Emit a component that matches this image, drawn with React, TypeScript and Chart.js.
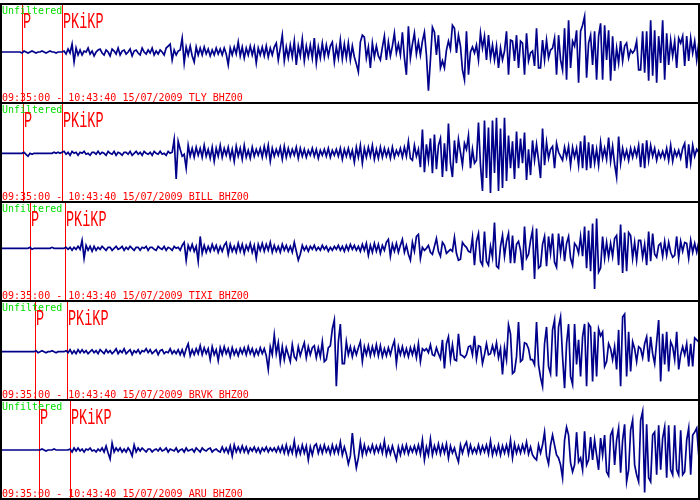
import React, { useEffect, useRef } from "react";
import { Chart, registerables } from "chart.js";

Chart.register(...registerables);

// ---- data ----
const START_TIME = "09:35:00";
const END_TIME = "10:43:40";
const DATE = "15/07/2009";
const CHANNEL = "BHZ00";
const FILTER_LABEL = "Unfiltered";
const DURATION_SEC = 4120; // 09:35:00 -> 10:43:40
const SAMPLE_SEC = 11.8;
const STATIONS = ["TLY", "BILL", "TIXI", "BRVK", "ARU"];
const P_SEC = [130, 136, 177, 207, 230];
const PKIKP_SEC = [366, 366, 384, 396, 413];
const BASE_SHIFT = [-1.5, 0.8, -3.2, 1.2, 0.5];

const TLY = [
  0,0,0,0,0,0,0,0,0,0,
  0,-1,1,0,-1,0,1,0,-1,0,
  0,1,0,-1,0,1,0,0,-1,0,
  0,0,1,-2,3,-1,8,-10,4,-3,
  2,-3,1,0,4,-2,1,-4,0,2,
  3,-1,-3,2,0,-4,3,1,-2,4,
  -3,1,2,-2,0,3,-4,1,2,-1,
  -3,4,0,-2,2,-1,4,-3,1,-2,
  2,0,-3,4,6,8,-8,2,-3,1,
  2,14,-11,5,-3,6,-4,-10,5,-3,
  4,-3,5,-2,3,-4,2,-3,4,-2,
  3,-3,4,-2,-13,4,-3,5,-2,10,
  -4,5,-6,4,-3,6,-3,5,-11,4,
  -3,5,-4,6,-5,4,-3,5,9,-8,
  4,17,-9,5,-6,7,-5,11,-13,6,
  -4,13,-9,6,-5,7,-6,14,-11,5,
  -6,9,-5,7,-4,6,10,-10,5,-6,
  12,-7,8,-6,9,-8,6,-5,-12,-20,
  10,17,15,-6,5,-16,9,-5,6,-4,
  -8,5,16,-8,10,-4,6,19,-1,8,
  -3,20,-6,-23,26,-6,8,19,-2,10,
  -3,11,20,-3,-39,-8,25,20,-3,17,
  -16,-9,-16,2,11,3,27,24,-1,17,
  6,-18,-28,21,-23,0,5,-1,7,-8,
  19,4,16,-8,17,-6,7,-8,6,-16,
  4,-8,1,21,-23,12,11,-9,17,-16,
  11,9,-23,19,-9,-1,1,-14,24,-16,
  -16,12,-8,12,-6,2,4,14,-23,17,
  -8,-18,24,-28,32,-16,11,6,22,-31,
  21,27,36,-26,9,17,-13,21,-28,16,
  29,-28,27,-8,22,-29,16,-19,4,-11,
  11,-9,6,9,-6,2,-1,2,11,-18,
  -18,21,-21,21,-29,32,-24,22,-31,16,
  -11,32,-28,19,-13,12,-4,11,-16,14,
  9,16,-14,16,-9,14,-1,11,-8,9,
];

const BILL = [
  0,0,0,0,0,0,0,0,0,0,
  0,0,1,-1,-3,0,-1,0,0,0,
  0,0,0,0,0,0,0,1,0,1,
  0,1,2,-1,1,-2,2,0,1,-2,
  1,0,2,-1,0,-2,1,1,-1,2,
  -1,1,0,-2,2,0,-1,2,-2,1,
  0,-2,1,1,-1,2,-2,0,2,-1,
  1,-2,2,0,-1,1,-2,2,0,-1,
  2,-1,0,-2,2,0,1,14,-26,12,
  4,-3,-1,-15,8,-3,5,-4,6,-2,
  5,-4,8,-3,4,-5,6,-8,5,-3,
  8,-4,5,-2,6,-5,4,-8,7,-3,
  5,-6,8,-4,3,-5,6,-3,4,-2,
  5,-4,7,-3,8,-8,5,-3,4,-2,
  6,-6,7,-4,5,-3,4,-2,6,-5,
  5,-3,4,-4,3,-2,5,-3,4,-5,
  3,-2,4,-3,5,-4,3,-2,4,-3,
  5,-6,4,-3,5,-4,3,-9,6,-4,
  8,-10,5,-4,6,-3,8,-6,4,-5,
  6,-4,5,-3,4,-5,6,-4,3,-2,
  5,-4,6,-3,12,-5,-7,8,-3,4,
  -14,24,-19,9,-7,15,-20,19,-16,8,
  15,-24,10,-18,30,-10,-24,13,-10,14,
  1,-12,10,4,18,-15,4,-10,-7,31,
  -12,-38,33,-25,26,-40,33,-20,36,-38,
  25,-35,36,-28,18,-15,12,-26,22,-15,
  15,-10,21,-27,4,-22,13,-7,9,-7,
  -25,25,-12,11,-5,4,7,-15,10,1,
  -3,-7,6,-4,7,-12,6,-4,5,-12,
  12,-15,18,-17,11,-15,9,-10,4,-12,
  11,-5,5,-6,16,-8,7,-11,-24,17,
  -10,5,-5,3,-7,5,-4,5,-3,8,
  -14,10,-15,13,-7,8,-3,5,-7,2,
  -4,2,-5,5,-7,8,-8,3,-3,3,
  -5,5,10,-15,9,-10,8,-3,4,1,
];

const TIXI = [
  0,0,0,0,0,0,0,0,0,0,
  0,0,0,0,0,1,-1,0,0,0,
  0,0,0,0,0,0,1,0,0,0,
  0,0,0,1,-1,1,-2,1,-1,2,
  -1,8,-10,3,-2,2,-3,2,-2,1,
  -1,2,0,-2,1,1,-2,0,2,-1,
  0,2,-2,1,-1,2,0,-2,1,1,
  -2,1,0,2,-2,1,1,-1,-2,2,
  0,-1,2,-2,1,0,-2,2,0,1,
  -2,3,6,-12,3,-2,4,-3,2,-13,
  12,-5,3,-4,2,-3,4,-2,3,-4,
  2,-3,3,6,-6,4,-3,2,-4,5,
  -3,4,-5,3,-2,5,-4,3,-10,4,
  -2,5,-3,4,-2,6,-4,3,-3,2,
  -4,4,-2,3,-3,2,-4,6,-3,-12,
  -6,3,-2,2,-3,2,-1,3,-2,1,
  -2,3,-1,2,-3,1,-2,2,-1,3,
  -2,2,-3,3,-2,4,-1,3,-2,2,
  -3,4,-2,5,-7,3,-4,5,-3,4,
  -5,3,-2,6,9,-8,4,-3,5,-4,
  3,9,-4,3,-6,-12,6,-3,12,14,
  -10,1,-2,0,3,-4,-6,2,10,-3,
  -8,6,3,-5,-3,-1,-3,11,-5,-12,
  -11,6,3,1,-3,-4,11,-17,7,15,
  -13,-17,17,-13,-17,2,-9,26,-18,-20,
  2,13,-8,7,15,-15,13,-15,4,7,
  -2,-22,22,-10,-6,8,18,-31,20,-20,
  -18,4,12,-18,12,-5,15,-14,-19,15,
  -5,12,-13,5,12,-10,-17,5,2,-5,
  12,-8,22,-20,18,-23,25,-41,30,-24,
  -20,12,-10,6,-9,5,-8,10,13,-17,
  24,-25,16,-23,16,13,-10,6,-12,8,
  8,-9,4,-17,17,-13,15,-6,-9,3,
  5,-8,7,-7,6,-4,-9,-7,12,-10,
  7,-3,6,5,-10,8,-4,5,-4,6,
];

const BRVK = [
  0,0,0,0,0,0,0,0,0,0,
  0,0,0,0,0,0,0,0,1,-1,
  0,1,0,-1,0,0,1,0,-1,0,
  0,0,0,1,-1,2,-2,1,-2,2,
  -1,2,-1,1,-2,0,2,-1,1,-2,
  2,0,-2,2,-1,1,-2,0,3,-2,
  1,-1,3,-2,0,2,-3,1,-1,2,
  -2,1,0,3,-1,2,-2,0,2,-3,
  1,2,-2,0,-1,3,-2,1,-2,2,
  -3,2,-4,3,8,-4,2,-3,3,-2,
  6,-3,4,-2,3,-8,5,-3,2,-9,
  4,-3,5,-2,3,-5,4,-3,2,-4,
  3,-2,4,-3,5,-2,3,-4,2,-3,
  4,-2,3,-4,-18,5,-3,17,-2,9,
  -10,5,-8,4,-3,-10,7,-5,-8,5,
  -4,3,9,-6,5,-3,4,6,-6,4,
  -5,10,-10,-8,4,6,23,32,-35,10,
  28,-12,-12,10,-3,5,-5,4,-3,4,
  10,-10,5,-3,6,-4,5,-3,7,-4,
  6,-5,3,-4,4,-3,5,11,-12,5,
  -3,5,-4,3,-5,4,-3,5,-6,8,
  -10,3,1,3,-1,7,-3,-4,4,-2,
  -7,12,-17,8,15,-8,7,-8,-9,18,
  -3,-4,-6,-3,5,6,-3,16,-7,6,
  5,-12,-3,8,-3,-2,6,-2,9,-6,
  3,-23,4,-8,27,18,-22,-20,-5,30,
  -10,-8,9,8,3,-8,-8,-13,30,-13,
  -26,-35,8,25,-15,-22,22,32,-25,25,
  35,-5,-37,8,28,-25,-33,28,-13,12,
  -25,15,28,-35,28,25,-30,20,-25,23,
  16,20,-15,-10,8,3,-8,5,-18,22,
  -35,35,38,-25,20,-20,10,3,-10,5,
  3,-6,8,15,-10,15,-2,-12,10,32,
  -30,18,-13,20,-20,10,5,-8,20,-18,
  -3,5,-3,8,-15,8,-15,14,12,10,
];

const ARU = [
  0,0,0,0,0,0,0,0,0,0,
  0,0,0,0,0,0,0,0,0,0,
  0,1,0,-1,0,0,0,1,0,0,
  0,0,0,0,0,1,-2,2,-1,2,
  -1,1,-2,1,0,2,-1,0,-2,1,
  -1,2,-2,4,-3,-9,7,-2,2,-1,
  2,-2,1,-2,2,-1,-6,5,-2,2,
  -1,2,0,-2,1,1,-2,0,1,-1,
  2,-1,0,2,-2,1,0,-1,2,-2,
  0,1,-2,2,-1,0,1,-2,2,0,
  -2,2,0,-1,1,2,-2,0,1,-1,
  -2,3,-2,2,-3,4,-6,5,-2,3,
  -2,4,-2,3,-3,2,-1,3,-2,2,
  -3,2,-1,3,-2,2,-1,2,-2,3,
  -2,4,-3,5,-4,3,-3,9,-5,3,
  -4,5,-3,4,-10,3,-5,4,6,-3,
  4,-3,5,-2,3,-4,5,-3,4,-3,
  8,-5,3,-4,-14,-6,17,-4,-18,-8,
  8,-5,5,-4,3,-2,5,-3,4,-2,
  5,-3,9,-5,3,-4,4,-3,-10,3,
  -5,4,-3,5,-4,3,-2,4,-3,5,
  -4,10,-10,3,-5,11,-5,4,-3,6,
  -4,5,-3,6,-8,4,-3,2,-6,-12,
  5,-3,4,8,-4,5,-3,2,-3,5,
  -3,4,-2,5,-4,9,-5,3,-4,5,
  -5,4,-3,5,-4,10,-8,6,-3,4,
  -3,5,-2,8,-4,3,-5,-8,-10,5,
  -3,5,18,-6,-14,5,15,5,-5,-8,
  -15,-28,10,23,15,-13,-22,-15,18,-12,
  -8,-20,19,-15,-10,13,-10,10,-5,-20,
  12,-5,15,-22,-26,15,20,-15,10,22,
  -23,10,26,-32,-20,20,30,-15,-25,-32,
  30,39,-43,26,-28,-32,15,18,-25,25,
  -20,12,23,-28,25,-20,-25,25,-20,-25,
  20,-25,-22,10,22,-25,15,18,22,-5,
];

const TRACES = [TLY, BILL, TIXI, BRVK, ARU];

// ---- styles ----
const NAVY = "#00008b";
const RED = "#ff0000";
const GREEN = "#00dd00";
const W = 700;
const H = 500;
const PANEL_STEP = 99;
const FIRST_BORDER = 3;
const CANVAS_H = 97;
const CANVAS_W = 699;

const seisPlugin = {
  id: "seis",
  beforeDatasetsDraw(chart: any, _args: any, opts: any) {
    const ctx = chart.ctx as CanvasRenderingContext2D;
    const xs = chart.scales.x;
    const h = chart.height;
    ctx.save();
    ctx.strokeStyle = RED;
    ctx.lineWidth = 1;
    [opts.p, opts.pkikp].forEach((t: number) => {
      const px = Math.round(xs.getPixelForValue(t)) + 0.5;
      ctx.beginPath();
      ctx.moveTo(px, 0);
      ctx.lineTo(px, h);
      ctx.stroke();
    });
    ctx.textAlign = "left";
    ctx.textBaseline = "alphabetic";
    ctx.font = "10px 'DejaVu Sans Mono'";
    ctx.fillStyle = GREEN;
    ctx.fillText(FILTER_LABEL, 2, 9);
    ctx.fillStyle = RED;
    ctx.fillText(opts.footer, 2, 96);
    ctx.font = "13.5px 'Liberation Mono'";
    const labels: [number, string][] = [
      [opts.p, "P"],
      [opts.pkikp, "PKiKP"],
    ];
    labels.forEach(([t, s]) => {
      const px = Math.round(xs.getPixelForValue(t));
      ctx.save();
      ctx.translate(px + 1, 23);
      ctx.scale(1, 1.6);
      ctx.fillText(s, 0, 0);
      ctx.restore();
    });
    ctx.restore();
  },
};

function Panel({ index }: { index: number }) {
  const ref = useRef<HTMLCanvasElement>(null);
  useEffect(() => {
    const canvas = ref.current!;
    const values = TRACES[index];
    const shift = BASE_SHIFT[index];
    const chart = new Chart(canvas, {
      type: "line",
      data: {
        datasets: [
          {
            data: values.map((v, i) => ({ x: i * SAMPLE_SEC, y: v })),
            borderColor: NAVY,
            borderWidth: 1.7,
            pointRadius: 0,
            tension: 0,
            fill: false,
          } as any,
        ],
      },
      options: {
        animation: false,
        responsive: false,
        maintainAspectRatio: false,
        events: [],
        layout: { padding: 0 },
        plugins: {
          legend: { display: false },
          tooltip: { enabled: false },
          seis: {
            p: P_SEC[index],
            pkikp: PKIKP_SEC[index],
            footer: `${START_TIME} - ${END_TIME} ${DATE} ${STATIONS[index]} ${CHANNEL}`,
          },
        } as any,
        scales: {
          x: { type: "linear", min: 0, max: DURATION_SEC, display: false },
          y: { min: -49 + shift, max: 49 + shift, display: false },
        },
      },
      plugins: [seisPlugin],
    });
    return () => chart.destroy();
  }, [index]);
  const top = FIRST_BORDER + PANEL_STEP * index + 2;
  return (
    <canvas
      ref={ref}
      width={CANVAS_W}
      height={CANVAS_H}
      style={{ position: "absolute", left: 0, top, width: CANVAS_W, height: CANVAS_H }}
    />
  );
}

export default function App() {
  const borders = [0, 1, 2, 3, 4, 5];
  return (
    <div
      style={{
        position: "fixed",
        left: 0,
        top: 0,
        width: W,
        height: H,
        background: "#ffffff",
        overflow: "hidden",
      }}
    >
      {STATIONS.map((s, i) => (
        <Panel key={s} index={i} />
      ))}
      {borders.map((k) => (
        <div
          key={"h" + k}
          style={{
            position: "absolute",
            left: 0,
            top: FIRST_BORDER + PANEL_STEP * k,
            width: W,
            height: 2,
            background: "#000",
          }}
        />
      ))}
      <div style={{ position: "absolute", left: 0, top: FIRST_BORDER, width: 2, height: H - FIRST_BORDER, background: "#000" }} />
      <div style={{ position: "absolute", left: 698, top: FIRST_BORDER, width: 2, height: H - FIRST_BORDER, background: "#000" }} />
    </div>
  );
}
